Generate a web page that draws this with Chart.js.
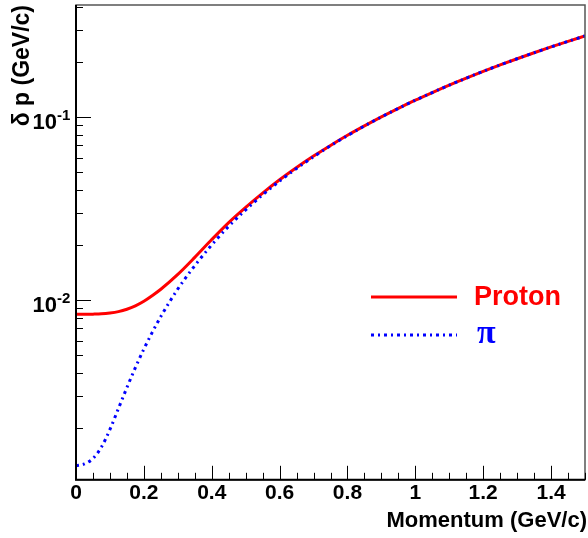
<!DOCTYPE html>
<html>
<head>
<meta charset="utf-8">
<script src="https://cdn.jsdelivr.net/npm/chart.js@4"></script>
<style>
    body { margin: 0; background: #fff; }
    #wrap { width: 588px; height: 538px; }
</style>
</head>
<body>
<div id="wrap"><canvas id="chart1" width="588" height="538"></canvas></div>
<script>
// data start
var momentum = [0, 0.025, 0.05, 0.075, 0.1, 0.125, 0.15, 0.175, 0.2, 0.225, 0.25, 0.3, 0.35, 0.4, 0.45, 0.5,
    0.55, 0.6, 0.65, 0.7, 0.75, 0.8, 0.85, 0.9, 0.95, 1.0, 1.05, 1.1, 1.15, 1.2, 1.25, 1.3, 1.35, 1.4, 1.45, 1.5];
var protonRes = [0.00835, 0.00836, 0.00837, 0.0084, 0.00849, 0.00864, 0.0089, 0.00929, 0.00984, 0.01058, 0.01145,
    0.0138, 0.0171, 0.0214, 0.0265, 0.0321, 0.0384, 0.0454, 0.0530, 0.0612, 0.0700, 0.0795, 0.0895, 0.1003,
    0.1117, 0.1237, 0.1362, 0.1495, 0.1633, 0.1778, 0.1928, 0.2085, 0.2248, 0.2418, 0.2594, 0.2776];
var pionRes = [0.00124, 0.00127, 0.00136, 0.00157, 0.00196, 0.00255, 0.00332, 0.00427, 0.00539, 0.00667, 0.00812,
    0.01148, 0.0154, 0.0200, 0.0253, 0.0311, 0.0376, 0.0447, 0.0524, 0.0607, 0.0697, 0.0792, 0.0894, 0.1002,
    0.1116, 0.1236, 0.1362, 0.1495, 0.1633, 0.1778, 0.1928, 0.2085, 0.2248, 0.2418, 0.2594, 0.2776];
var seriesNames = ['Proton', '\u03c0'];
var yMajorValues = [0.01, 0.1];
var yMajorExponents = ['-2', '-1'];
// data end

function toPoints(ys) {
    return momentum.map(function (p, i) { return { x: p, y: ys[i] }; });
}

var FONT = '"Liberation Sans", Arial, Helvetica, sans-serif';

// root style plugin start
var rootStyle = {
    id: 'rootStyle',
    afterDatasetsDraw: function (chart) {
        var ctx = chart.ctx, a = chart.chartArea;
        var xs = chart.scales.x, ys = chart.scales.y;
        ctx.save();

        // frame
        ctx.strokeStyle = '#555';
        ctx.lineWidth = 1.5;
        ctx.strokeRect(a.left, a.top, a.right - a.left, a.bottom - a.top);
        ctx.strokeStyle = '#000';
        ctx.lineWidth = 2;
        ctx.beginPath();
        ctx.moveTo(a.left, a.top);
        ctx.lineTo(a.left, a.bottom);
        ctx.lineTo(a.right, a.bottom);
        ctx.stroke();

        // x ticks (inside)
        ctx.lineWidth = 1;
        ctx.beginPath();
        for (var i = 0; i * 0.05 <= xs.max + 1e-9; i++) {
            var px = Math.round(xs.getPixelForValue(i * 0.05)) + 0.5;
            var len = (i % 4 === 0) ? 14 : 7;
            ctx.moveTo(px, a.bottom);
            ctx.lineTo(px, a.bottom - len);
        }
        // y ticks (inside, log)
        for (var d = -4; d <= 0; d++) {
            for (var k = 1; k <= 9; k++) {
                var v = k * Math.pow(10, d);
                if (v < ys.min || v > ys.max) continue;
                var py = Math.round(ys.getPixelForValue(v)) + 0.5;
                ctx.moveTo(a.left, py);
                ctx.lineTo(a.left + (k === 1 ? 15 : 7), py);
            }
        }
        ctx.stroke();

        // y labels 10^n
        ctx.fillStyle = '#000';
        yMajorValues.forEach(function (v, j) {
            var py = ys.getPixelForValue(v);
            ctx.font = 'bold 22px ' + FONT;
            ctx.textAlign = 'right';
            ctx.textBaseline = 'alphabetic';
            ctx.fillText('10', 57, py + 12);
            ctx.font = 'bold 15px ' + FONT;
            ctx.textAlign = 'left';
            ctx.fillText(yMajorExponents[j], 57, py + 3);
        });

        // axis titles
        ctx.font = 'bold 22px ' + FONT;
        ctx.textAlign = 'right';
        ctx.fillText('Momentum (GeV/c)', a.right + 2, 527);
        ctx.save();
        ctx.translate(29, a.top);
        ctx.rotate(-Math.PI / 2);
        ctx.textAlign = 'right';
        ctx.font = 'bold 23px ' + FONT;
        ctx.fillText('\u03b4 p (GeV/c)', 0, 0);
        ctx.restore();

        // legend
        var lx0 = 371, lx1 = 457;
        var rows = [{ y: 297, ty: 305 }, { y: 335, ty: 343 }];
        chart.data.datasets.forEach(function (ds, j) {
            ctx.strokeStyle = ds.borderColor;
            ctx.lineWidth = ds.borderWidth;
            ctx.setLineDash(ds.borderDash || []);
            ctx.beginPath();
            ctx.moveTo(lx0, rows[j].y);
            ctx.lineTo(lx1, rows[j].y);
            ctx.stroke();
            ctx.setLineDash([]);
            ctx.fillStyle = ds.borderColor;
            ctx.textAlign = 'left';
            if (j === 0) {
                ctx.font = 'bold 27px ' + FONT;
                ctx.fillText(ds.label, 474, rows[j].ty);
            } else {
                ctx.font = 'bold 34px "Liberation Serif", "DejaVu Serif", serif';
                ctx.fillText(ds.label, 477, rows[j].ty);
            }
        });

        ctx.restore();
    }
};
// root style plugin end

new Chart("chart1", {
    type: "line",
    data: {
        datasets: [{
            label: seriesNames[0],
            data: toPoints(protonRes),
            borderColor: "#ff0000",
            borderWidth: 3,
            pointRadius: 0,
            cubicInterpolationMode: 'monotone',
            order: 1
        }, {
            label: seriesNames[1],
            data: toPoints(pionRes),
            borderColor: "#0000ff",
            borderWidth: 3,
            borderDash: [3, 4, 2, 4],
            pointRadius: 0,
            cubicInterpolationMode: 'monotone',
            order: 0
        }]
    },
    options: {
        responsive: false,
        animation: false,
        layout: { padding: { left: 76, right: 3, top: 5, bottom: 31 } },
        plugins: {
            legend: { display: false },
            tooltip: { enabled: false }
        },
        scales: {
            x: {
                type: 'linear',
                min: 0,
                max: 1.5,
                grid: { display: false, drawTicks: false },
                border: { display: false },
                ticks: {
                    stepSize: 0.2,
                    includeBounds: false,
                    autoSkip: false,
                    maxRotation: 0,
                    padding: 1,
                    color: '#000',
                    font: { family: FONT, size: 21, weight: 'bold' },
                    callback: function (v) { return String(+v.toFixed(1)); }
                }
            },
            y: {
                type: 'logarithmic',
                min: 0.00104,
                max: 0.41,
                grid: { display: false, drawTicks: false },
                border: { display: false },
                ticks: { display: false }
            }
        }
    },
    plugins: [rootStyle]
});
</script>
</body>
</html>
